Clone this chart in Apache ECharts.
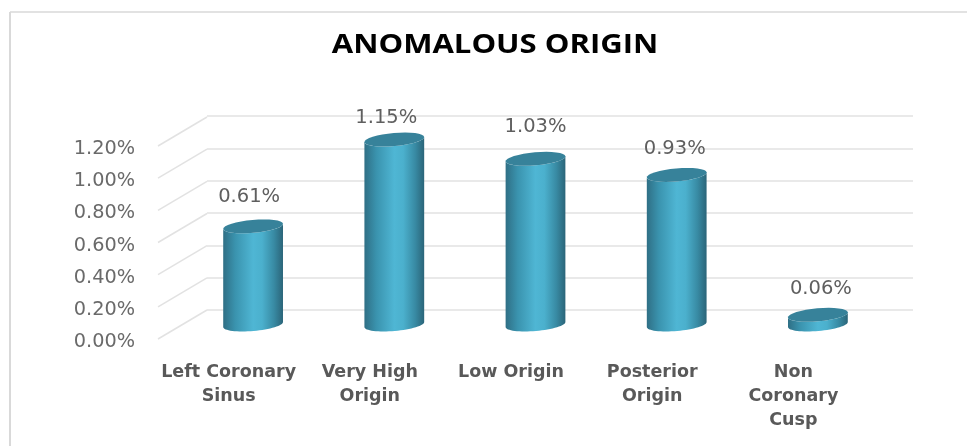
<!DOCTYPE html>
<html>
<head>
<meta charset="utf-8">
<style>html,body{margin:0;padding:0;background:#fff}#main{width:967px;height:446px}</style>
<script src="https://cdn.jsdelivr.net/npm/echarts@6/dist/echarts.min.js"></script>
</head>
<body>
<div id="main"></div>
<script>
var categories = ['Left Coronary\nSinus', 'Very High\nOrigin', 'Low Origin', 'Posterior\nOrigin', 'Non\nCoronary\nCusp'];
var values = [0.61, 1.15, 1.03, 0.93, 0.06];
var tickValues = [0, 0.2, 0.4, 0.6, 0.8, 1.0, 1.2];

// fake 3d: front plane is the main grid, back wall sits up and to the right
var depthX = 49, depthY = 29;
var rx = 30, ry = 6.5, tilt = -5 * Math.PI / 180;
// the data labels sit by hand in the original, not centred on the bars
var labelShift = [[-4, -29], [-8, -22], [0, -32], [-2, -26], [3, -26]];

function ellipsePoint(cx, cy, t) {
  var c = Math.cos(t), s = Math.sin(t);
  return [
    cx + rx * c * Math.cos(tilt) - ry * s * Math.sin(tilt),
    cy + rx * c * Math.sin(tilt) + ry * s * Math.cos(tilt)
  ];
}

function arc(cx, cy, from, to) {
  var pts = [];
  for (var i = 0; i <= 32; i++) {
    pts.push(ellipsePoint(cx, cy, from + (to - from) * i / 32));
  }
  return pts;
}

function renderCylinder(params, api) {
  var i = api.value(0), v = api.value(1);
  var top = api.coord([i, v]);
  var base = api.coord([i, 0]);
  var cx = top[0] + depthX / 2;
  var topY = top[1] - depthY / 2;
  var baseY = base[1] - depthY / 2;
  var body = arc(cx, baseY, 0, Math.PI).concat(arc(cx, topY, Math.PI, 0));
  var shift = labelShift[params.dataIndex];
  return {
    type: 'group',
    children: [
      {
        type: 'polygon',
        shape: { points: body },
        style: {
          fill: new echarts.graphic.LinearGradient(0, 0, 1, 0, [
            { offset: 0, color: '#2f6f85' },
            { offset: 0.2, color: '#3a93ae' },
            { offset: 0.5, color: '#4fb6d4' },
            { offset: 0.65, color: '#4bb0cd' },
            { offset: 0.85, color: '#388aa3' },
            { offset: 1, color: '#2b6579' }
          ])
        }
      },
      {
        type: 'polygon',
        shape: { points: arc(cx, topY, 0, Math.PI * 2) },
        style: { fill: '#37829a' }
      },
      {
        type: 'text',
        style: {
          text: v.toFixed(2) + '%',
          x: cx + shift[0],
          y: topY + shift[1],
          align: 'center',
          verticalAlign: 'middle',
          font: '19.5px "DejaVu Sans"',
          fill: '#5f5f5f'
        }
      }
    ]
  };
}

function renderDepthLine(params, api) {
  var y = api.coord([0, api.value(0)])[1];
  var x = params.coordSys.x;
  return {
    type: 'line',
    shape: { x1: x, y1: y, x2: x + depthX, y2: y - depthY },
    style: { stroke: '#e2e2e2', lineWidth: 1.5 }
  };
}

var chart = echarts.init(document.getElementById('main'), null, { renderer: 'canvas' });
chart.setOption({
  animation: false,
  backgroundColor: '#fff',
  graphic: [
    { type: 'line', shape: { x1: 10, y1: 12, x2: 967, y2: 12 }, style: { stroke: '#d9d9d9', lineWidth: 1.5 } },
    { type: 'line', shape: { x1: 10, y1: 12, x2: 10, y2: 446 }, style: { stroke: '#d9d9d9', lineWidth: 2 } },
    // the title is stretched wide in the original
    {
      type: 'text',
      x: 495,
      y: 45,
      scaleX: 1.15,
      style: {
        text: 'ANOMALOUS ORIGIN',
        align: 'center',
        verticalAlign: 'middle',
        font: 'bold 27px "Open Sans"',
        fill: '#000'
      }
    }
  ],
  grid: [
    { left: 158, top: 146, width: 706, height: 193 },
    { left: 207, top: 116, width: 706, height: 194 },
    // tick labels sit a little under their front edge lines
    { left: 158, top: 149, width: 706, height: 193 }
  ],
  xAxis: [
    {
      type: 'category',
      gridIndex: 0,
      data: categories,
      axisLine: { show: false },
      axisTick: { show: false },
      axisLabel: {
        interval: 0,
        margin: 21,
        fontFamily: 'DejaVu Sans',
        fontWeight: 'bold',
        fontSize: 17.5,
        lineHeight: 24,
        color: '#595959'
      }
    },
    { type: 'category', gridIndex: 1, data: categories, show: false },
    { type: 'category', gridIndex: 2, data: categories, show: false }
  ],
  yAxis: [
    {
      type: 'value',
      gridIndex: 0,
      min: 0,
      max: 1.2,
      interval: 0.2,
      axisLine: { show: false },
      axisTick: { show: false },
      splitLine: { show: false },
      axisLabel: { show: false }
    },
    {
      type: 'value',
      gridIndex: 1,
      min: 0,
      max: 1.2,
      interval: 0.2,
      axisLine: { show: false },
      axisTick: { show: false },
      axisLabel: { show: false },
      splitLine: { lineStyle: { color: '#e2e2e2', width: 1.5 } }
    },
    {
      type: 'value',
      gridIndex: 2,
      min: 0,
      max: 1.2,
      interval: 0.2,
      axisLine: { show: false },
      axisTick: { show: false },
      splitLine: { show: false },
      axisLabel: {
        margin: 23,
        fontFamily: 'DejaVu Sans',
        fontSize: 19.3,
        color: '#6a6a6a',
        formatter: function (v) { return v.toFixed(2) + '%'; }
      }
    }
  ],
  series: [
    {
      type: 'custom',
      xAxisIndex: 0,
      yAxisIndex: 0,
      silent: true,
      clip: false,
      z: 1,
      data: tickValues,
      encode: { y: 0 },
      renderItem: renderDepthLine
    },
    {
      type: 'custom',
      xAxisIndex: 0,
      yAxisIndex: 0,
      clip: false,
      z: 2,
      data: values.map(function (v, i) { return [i, v]; }),
      encode: { x: 0, y: 1 },
      renderItem: renderCylinder
    }
  ]
});
</script>
</body>
</html>
